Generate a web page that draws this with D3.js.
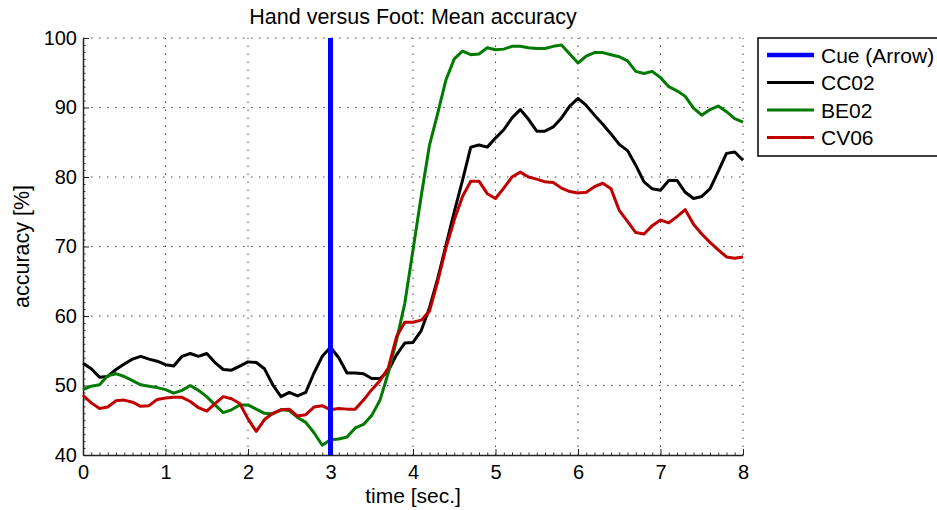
<!DOCTYPE html>
<html>
<head>
<meta charset="utf-8">
<script src="https://cdn.jsdelivr.net/npm/d3@7"></script>
<style>
  html, body { margin: 0; padding: 0; background: #fff; }
  svg { display: block; font-family: "Liberation Sans", Arial, Helvetica, sans-serif; }
</style>
</head>
<body>
<svg id="chart" width="937" height="510"></svg>
<script>
// Time grid (seconds), 0.1 s steps from 0 to 8
const timeSec = d3.range(0, 81).map(i => +(i * 0.1).toFixed(1));

// Mean accuracy [%] per subject, one value per time step
const cc02 = [
  53.2, 52.4, 51.2, 51.3, 52.3, 53.1, 53.8, 54.2, 53.8, 53.5,
  53.0, 52.8, 54.2, 54.6, 54.2, 54.6, 53.3, 52.3, 52.2, 52.8,
  53.4, 53.3, 52.4, 50.1, 48.4, 49.0, 48.5, 49.0, 51.8, 54.2,
  55.5, 54.0, 51.8, 51.8, 51.7, 51.0, 51.0, 52.1, 54.4, 56.1,
  56.2, 57.9, 61.2, 65.4, 70.2, 75.0, 79.5, 84.3, 84.6, 84.3,
  85.6, 86.8, 88.5, 89.7, 88.3, 86.6, 86.6, 87.2, 88.5, 90.2,
  91.3, 90.3, 88.9, 87.6, 86.2, 84.7, 83.8, 81.7, 79.3, 78.3,
  78.1, 79.5, 79.5, 77.8, 76.9, 77.2, 78.3, 80.8, 83.4, 83.6,
  82.4
];
const be02 = [
  49.4, 49.9, 50.1, 51.4, 51.7, 51.3, 50.7, 50.1, 49.9, 49.7,
  49.4, 48.9, 49.3, 50.0, 49.3, 48.4, 47.2, 46.1, 46.5, 47.2,
  47.2, 46.6, 46.0, 45.9, 46.5, 46.4, 45.4, 44.7, 43.2, 41.4,
  42.2, 42.3, 42.6, 43.9, 44.4, 45.7, 47.9, 51.8, 56.5, 61.8,
  69.5, 77.3, 84.6, 89.2, 94.0, 97.0, 98.1, 97.6, 97.7, 98.6,
  98.3, 98.4, 98.8, 98.8, 98.6, 98.5, 98.5, 98.8, 99.0, 97.7,
  96.4, 97.4, 97.9, 97.9, 97.6, 97.3, 96.7, 95.2, 94.9, 95.2,
  94.3, 93.0, 92.4, 91.6, 89.9, 88.9, 89.7, 90.2, 89.4, 88.4,
  87.9
];
const cv06 = [
  48.6, 47.5, 46.7, 46.9, 47.8, 47.9, 47.6, 47.0, 47.1, 48.0,
  48.2, 48.3, 48.3, 47.7, 46.8, 46.3, 47.4, 48.4, 48.1, 47.4,
  45.2, 43.4, 45.1, 46.0, 46.5, 46.6, 45.6, 45.8, 46.9, 47.1,
  46.5, 46.7, 46.6, 46.6, 47.9, 49.4, 50.7, 52.5, 57.0, 59.1,
  59.1, 59.4, 60.7, 65.0, 69.8, 73.8, 77.2, 79.4, 79.4, 77.6,
  76.9, 78.4, 80.0, 80.7, 80.0, 79.7, 79.3, 79.2, 78.4, 77.9,
  77.7, 77.8, 78.6, 79.1, 78.3, 75.2, 73.6, 72.0, 71.8, 73.0,
  73.8, 73.4, 74.3, 75.3, 73.2, 71.8, 70.6, 69.5, 68.5, 68.3,
  68.5
];

// Cue onset time
const cueTime = 3;

// Legend entries and series
const seriesNames = ["CC02", "BE02", "CV06"];
const seriesValues = [cc02, be02, cv06];
const seriesColors = ["#000000", "#007a00", "#c00000"];
const cueName = "Cue (Arrow)";
const cueColor = "#0000ff";

// Axis ticks
const xTicks = [0, 1, 2, 3, 4, 5, 6, 7, 8];
const yTicks = [40, 50, 60, 70, 80, 90, 100];

const svg = d3.select("#chart");
const margin = { left: 83, right: 194, top: 38, bottom: 55 };
const W = 937, H = 510;

const x = d3.scaleLinear().domain([0, 8]).range([margin.left, W - margin.right]);
const y = d3.scaleLinear().domain([40, 100]).range([H - margin.bottom, margin.top]);

svg.append("rect").attr("width", W).attr("height", H).attr("fill", "#fff");

// Dotted grid
const grid = svg.append("g").attr("stroke", "#444").attr("stroke-width", 1)
  .attr("stroke-dasharray", "1.5,6.5");
grid.selectAll(".gx").data(xTicks.slice(1)).join("line")
  .attr("x1", d => x(d)).attr("x2", d => x(d))
  .attr("y1", y(40)).attr("y2", y(100));
grid.selectAll(".gy").data(yTicks.slice(1)).join("line")
  .attr("x1", x(0)).attr("x2", x(8))
  .attr("y1", d => y(d)).attr("y2", d => y(d));

// Minor ticks
const minorX = d3.range(0, 81).map(i => i / 10).filter(v => !xTicks.includes(v));
const minorY = d3.range(40, 101).filter(v => !yTicks.includes(v));
svg.append("g").attr("transform", `translate(0,${y(40)})`)
  .call(d3.axisBottom(x).tickValues(minorX).tickSizeInner(-2.5).tickSizeOuter(0).tickFormat(""))
  .call(g => g.select(".domain").remove())
  .selectAll("line").attr("stroke", "#333");
svg.append("g").attr("transform", `translate(${x(0)},0)`)
  .call(d3.axisLeft(y).tickValues(minorY).tickSizeInner(-2.5).tickSizeOuter(0).tickFormat(""))
  .call(g => g.select(".domain").remove())
  .selectAll("line").attr("stroke", "#333");

// Major axes
const xAxis = svg.append("g").attr("transform", `translate(0,${y(40)})`)
  .call(d3.axisBottom(x).tickValues(xTicks).tickSizeInner(-6).tickSizeOuter(0).tickPadding(10).tickFormat(d3.format("d")));
const yAxis = svg.append("g").attr("transform", `translate(${x(0)},0)`)
  .call(d3.axisLeft(y).tickValues(yTicks).tickSizeInner(-6).tickSizeOuter(0).tickPadding(6).tickFormat(d3.format("d")));
[xAxis, yAxis].forEach(a => {
  a.select(".domain").attr("stroke", "#222").attr("stroke-width", 1.5);
  a.selectAll(".tick line").attr("stroke", "#222").attr("stroke-width", 1);
  a.selectAll(".tick text").attr("fill", "#000").attr("font-size", 20)
    .attr("font-family", "Liberation Sans, Arial, sans-serif");
});

// Data lines
const line = d3.line().x((d, i) => x(timeSec[i])).y(d => y(d));
seriesValues.forEach((vals, k) => {
  svg.append("path").datum(vals)
    .attr("fill", "none")
    .attr("stroke", seriesColors[k])
    .attr("stroke-width", 3)
    .attr("stroke-linejoin", "round")
    .attr("d", line);
});

// Cue marker
svg.append("line")
  .attr("x1", x(cueTime)).attr("x2", x(cueTime))
  .attr("y1", y(40)).attr("y2", y(100))
  .attr("stroke", cueColor).attr("stroke-width", 5);

// Title and axis labels
svg.append("text").attr("x", x(4)).attr("y", 24)
  .attr("text-anchor", "middle").attr("font-size", 21.5)
  .text("Hand versus Foot: Mean accuracy");
svg.append("text").attr("x", x(4)).attr("y", 503)
  .attr("text-anchor", "middle").attr("font-size", 21)
  .text("time [sec.]");
svg.append("text")
  .attr("transform", `translate(29,${(y(40) + y(100)) / 2}) rotate(-90)`)
  .attr("text-anchor", "middle").attr("font-size", 21.5)
  .text("accuracy [%]");

// Legend
const legend = svg.append("g");
legend.append("rect")
  .attr("x", 758).attr("y", 38).attr("width", 200).attr("height", 118)
  .attr("fill", "#fff").attr("stroke", "#000").attr("stroke-width", 1.5);
const legendItems = [{ name: cueName, color: cueColor, w: 4.5 }]
  .concat(seriesNames.map((n, k) => ({ name: n, color: seriesColors[k], w: 3 })));
const rowY = d3.scalePoint().domain(legendItems.map(d => d.name)).range([55, 137.5]);
legendItems.forEach(it => {
  legend.append("line")
    .attr("x1", 767).attr("x2", 814)
    .attr("y1", rowY(it.name)).attr("y2", rowY(it.name))
    .attr("stroke", it.color).attr("stroke-width", it.w);
  legend.append("text")
    .attr("x", 821).attr("y", rowY(it.name)).attr("dy", "0.36em")
    .attr("font-size", 21).text(it.name);
});
</script>
</body>
</html>
